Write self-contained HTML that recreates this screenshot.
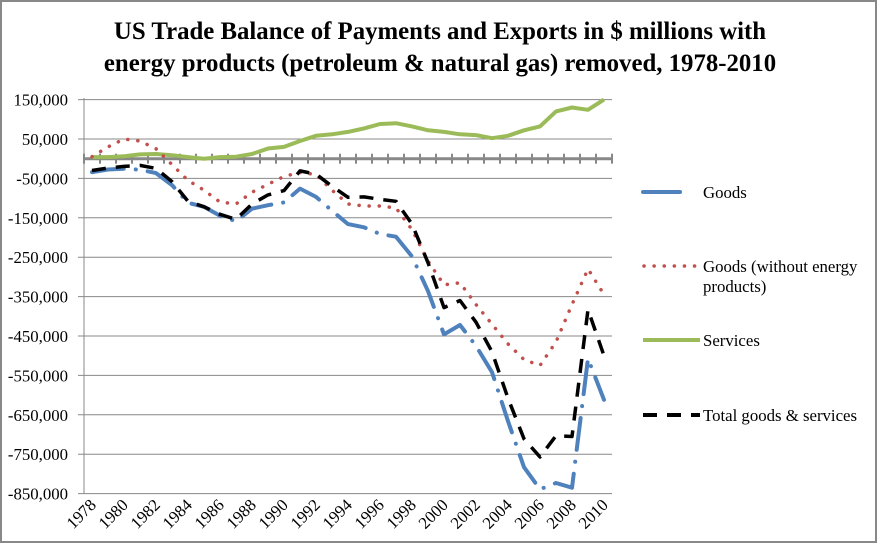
<!DOCTYPE html>
<html><head><meta charset="utf-8"><style>
html,body{margin:0;padding:0;background:#fff}
svg{display:block}
text{font-family:"Liberation Serif",serif;fill:#000}
</style></head><body>
<svg id="s" width="878" height="544" xmlns="http://www.w3.org/2000/svg">
<rect x="1" y="1" width="875" height="541" fill="#fff" stroke="#888" stroke-width="2"/>
<text x="440" y="39" text-anchor="middle" font-size="24.8" font-weight="bold">US Trade Balance of Payments and Exports in $ millions with</text>
<text x="440" y="71" text-anchor="middle" font-size="24.8" font-weight="bold">energy products (petroleum &amp; natural gas) removed, 1978-2010</text>
<g id="grid"></g>
<g id="lines"></g>
<g font-size="16.8">
<line x1="643" y1="192" x2="680" y2="192" stroke="#4F81BD" stroke-width="4" stroke-linecap="round"/>
<text x="703" y="198">Goods</text>
<line x1="644" y1="266" x2="700" y2="266" stroke="#C0504D" stroke-width="3.5" stroke-dasharray="0.1 10" stroke-linecap="round"/>
<text x="703" y="272">Goods (without energy</text>
<text x="703" y="292">products)</text>
<line x1="643" y1="340" x2="700" y2="340" stroke="#9BBB59" stroke-width="4"/>
<text x="703" y="346">Services</text>
<line x1="643" y1="415" x2="700" y2="415" stroke="#000" stroke-width="4" stroke-dasharray="14 10"/>
<text x="703" y="421">Total goods &amp; services</text>
</g>
</svg>
<script>
var NS="http://www.w3.org/2000/svg";
function el(t,a,p){var e=document.createElementNS(NS,t);for(var k in a)e.setAttribute(k,a[k]);document.getElementById(p).appendChild(e);return e;}
function Y(v){return 139+(50-v)/100*39.4;}
function X(i){return 84+16*(i+0.5);}
for(var v=150;v>=-850;v-=100){
 el('line',{x1:78,y1:Y(v),x2:612,y2:Y(v),stroke:'#888','stroke-width':1},'grid');
 var t=el('text',{x:68,y:Y(v)+6,'text-anchor':'end','font-size':16.8},'grid');
 t.textContent=(v<0?'-':'')+Math.abs(v)+',000';
}
el('line',{x1:84,y1:Y(0),x2:612,y2:Y(0),stroke:'#888','stroke-width':3},'grid');
for(var i=0;i<=33;i++){el('line',{x1:84+16*i,y1:Y(0)-5,x2:84+16*i,y2:Y(0)+5,stroke:'#888','stroke-width':2},'grid');}
el('line',{x1:84,y1:98,x2:84,y2:494,stroke:'#888','stroke-width':1},'grid');
for(var y=1978;y<=2010;y+=2){var i=y-1978;var x=X(i)+5,yy=506;
 var t=el('text',{x:x,y:yy,'text-anchor':'end','font-size':16.8,transform:'rotate(-45 '+x+' '+yy+')'},'grid');t.textContent=y;}
var goods=[-34,-27.5,-25.5,-28,-36.5,-67,-112,-122,-145,-159,-127,-118,-111,-76,-97,-132,-166,-174,-191,-198,-248,-336,-446,-422,-475,-542,-666,-783,-839,-823,-835,-507,-612];
var serv=[4,4,6,11,12,9,4,0,4,5,12,26,30,45,58,62,68,77,88,90,82,72,68,62,60,52,58,72,82,120,130,124,150];
var red=[5,30,50,45,25,-15,-55,-80,-110,-115,-85,-65,-45,-35,-40,-80,-115,-120,-120,-125,-180,-260,-320,-315,-370,-420,-470,-510,-525,-465,-370,-280,-345];
var tot=[];for(var i=0;i<33;i++)tot.push(goods[i]+serv[i]);
tot[32]=-500;tot[31]=-383;
function pts(a){return a.map(function(v,i){return X(i).toFixed(1)+','+Y(v).toFixed(1)}).join(' ');}
el('polyline',{points:pts(serv),fill:'none',stroke:'#9BBB59','stroke-width':4,'stroke-linejoin':'round'},'lines');
el('polyline',{points:pts(goods),fill:'none',stroke:'#4F81BD','stroke-width':4,'stroke-dasharray':'32 12 0.1 12','stroke-linecap':'round','stroke-linejoin':'round'},'lines');
el('polyline',{points:pts(red),fill:'none',stroke:'#C0504D','stroke-width':3.5,'stroke-dasharray':'0.1 10','stroke-linecap':'round'},'lines');
el('polyline',{points:pts(tot),fill:'none',stroke:'#000','stroke-width':3.5,'stroke-dasharray':'14 10','stroke-linejoin':'round'},'lines');
</script>
</body></html>
